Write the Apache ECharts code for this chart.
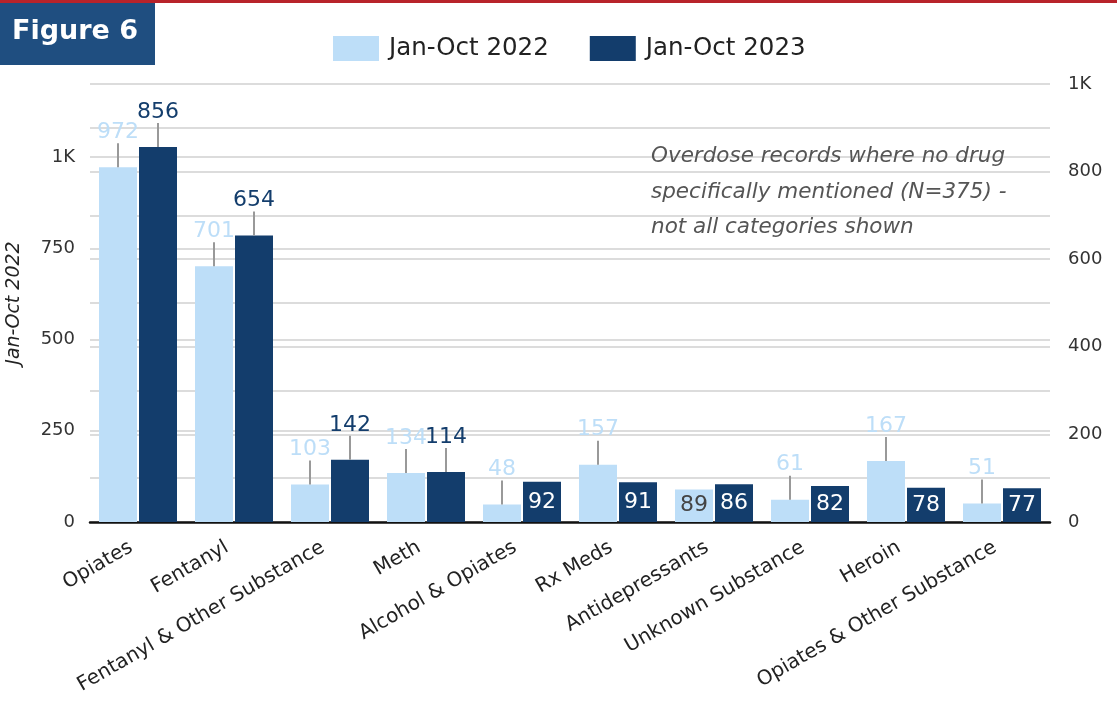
<!DOCTYPE html>
<html>
<head>
<meta charset="utf-8">
<script src="https://cdn.jsdelivr.net/npm/echarts@6/dist/echarts.min.js"></script>
<style>
html,body{margin:0;padding:0;background:#fff;}
#chart{width:1117px;height:704px;}
</style>
</head>
<body>
<div id="chart"></div>
<script>
// ---- data ----
const categories = ['Opiates','Fentanyl','Fentanyl & Other Substance','Meth','Alcohol & Opiates','Rx Meds','Antidepressants','Unknown Substance','Heroin','Opiates & Other Substance'];
const seriesNames = ['Jan-Oct 2022','Jan-Oct 2023'];
const values2022 = [972, 701, 103, 134, 48, 157, 89, 61, 167, 51];
const values2023 = [856, 654, 142, 114, 92, 91, 86, 82, 78, 77];
const leftTicks = [0, 250, 500, 750, 1000];
const rightTicks = [0, 200, 400, 600, 800, 1000];
const noteLines = ['Overdose records where no drug','specifically mentioned (N=375) -','not all categories shown'];
// categories whose value label sits inside the bar (label placement only)
const inside2022 = new Set(['Antidepressants']);
const inside2023 = new Set(['Alcohol & Opiates','Rx Meds','Antidepressants','Unknown Substance','Heroin','Opiates & Other Substance']);

const FONT = '"DejaVu Sans", "Open Sans", sans-serif';
const LIGHT = '#BDDEF8';
const DARK = '#133D6C';
const BAR_W = 38, GAP_PX = 2;

function fmtK(v){ return v >= 1000 ? (v/1000) + 'K' : String(v); }

function whiskerSeries(name, values, insideSet, yIdx, side, color){
  const data = values.map((v,i) => insideSet.has(categories[i]) ? null : [i, v]).filter(d => d);
  return {
    type: 'custom', name: name + ' labels', yAxisIndex: yIdx, silent: true, z: 5,
    data: data,
    renderItem: function(params, api){
      const p = api.coord([api.value(0), api.value(1)]);
      const x = p[0] + side * (BAR_W/2 + GAP_PX/2);
      const y = p[1];
      return {
        type: 'group',
        children: [
          {type:'line', shape:{x1:x, y1:y, x2:x, y2:y-24}, style:{stroke:'#999', lineWidth:2}},
          {type:'text', style:{text:String(api.value(1)), x:x, y:y-24, align:'center', verticalAlign:'bottom',
            fill:color, fontSize:22, fontFamily:FONT}}
        ]
      };
    }
  };
}

function barSeries(name, values, insideSet, yIdx, color, insideColor){
  return {
    type:'bar', name:name, yAxisIndex:yIdx, barWidth:BAR_W, barGap:(GAP_PX/BAR_W*100)+'%',
    itemStyle:{color:color},
    data: values.map((v,i) => ({
      value: v,
      label: {show: insideSet.has(categories[i]), position:'inside', color: insideColor, fontSize:22, fontFamily:FONT}
    }))
  };
}

const chart = echarts.init(document.getElementById('chart'), null, {renderer:'canvas'});
const option = {
  backgroundColor:'#fff',
  animation:false,
  textStyle:{fontFamily:FONT},
  legend:{
    data: seriesNames, left:328, top:31, itemWidth:46, itemHeight:25, itemGap:41,
    icon:'rect',
    textStyle:{fontSize:24.5, color:'#222', fontFamily:FONT, padding:[0,0,0,5]}
  },
  grid:{left:90, right:67, top:84, bottom:182, containLabel:false, outerBoundsMode:'none'},
  xAxis:{
    type:'category', data:categories,
    axisLine:{lineStyle:{color:'#111', width:2.5}},
    axisTick:{show:false},
    axisLabel:{rotate:30, fontSize:20, color:'#222', margin:20, interval:0, fontFamily:FONT, padding:[0,8,0,0]}
  },
  yAxis:[
    {
      type:'value', min:0, max:1200, interval:250, position:'left',
      name:'Jan-Oct 2022', nameLocation:'middle', nameGap:66,
      nameTextStyle:{fontSize:19, fontStyle:'italic', color:'#222', fontFamily:FONT},
      axisLine:{show:false}, axisTick:{show:false},
      axisLabel:{fontSize:18, color:'#333', margin:15, fontFamily:FONT,
        formatter: v => leftTicks.includes(v) ? fmtK(v) : ''},
      splitLine:{lineStyle:{color:'#dcdcdc', width:2}}
    },
    {
      type:'value', min:0, max:1000, interval:100, position:'right',
      axisLine:{show:false}, axisTick:{show:false},
      axisLabel:{fontSize:18, color:'#333', margin:18, fontFamily:FONT,
        formatter: v => rightTicks.includes(v) ? fmtK(v) : ''},
      splitLine:{lineStyle:{color:'#dcdcdc', width:2}}
    }
  ],
  graphic:[
    {type:'rect', left:0, top:0, shape:{width:1117, height:3}, style:{fill:'#B8232A'}, z:10},
    {type:'rect', left:0, top:3, shape:{width:155, height:62}, style:{fill:'#1F4E80'}, z:10},
    {type:'text', left:12, top:18, style:{text:'Figure 6', fill:'#fff', fontSize:27, fontWeight:'bold', fontFamily:FONT}, z:11},
    {type:'text', left:651, top:139, style:{text:noteLines.join('\n'), fill:'#555', fontSize:21.5, fontStyle:'italic', lineHeight:35.5, fontFamily:FONT}, z:11}
  ],
  series:[
    barSeries(seriesNames[0], values2022, inside2022, 0, LIGHT, '#444'),
    barSeries(seriesNames[1], values2023, inside2023, 1, DARK, '#fff'),
    whiskerSeries(seriesNames[0], values2022, inside2022, 0, -1, LIGHT),
    whiskerSeries(seriesNames[1], values2023, inside2023, 1, 1, DARK)
  ]
};
chart.setOption(option);
</script>
</body>
</html>
